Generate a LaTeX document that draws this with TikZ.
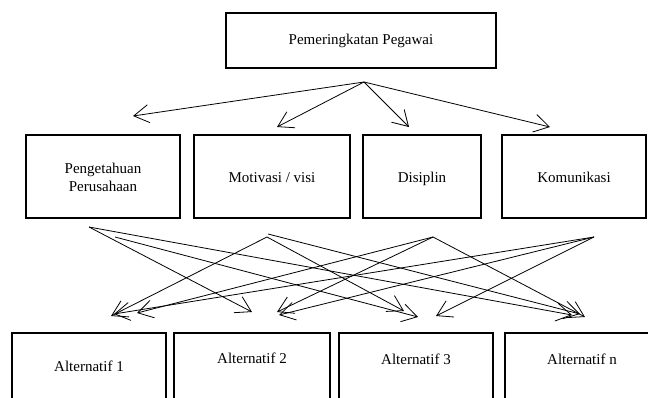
\documentclass[tikz,border=0pt]{standalone}
\usepackage{fontspec}
\setmainfont{Liberation Serif}
\usetikzlibrary{arrows.meta, calc}

\begin{document}
\begin{tikzpicture}[
  x=1pt, y=-1pt,
  box/.style={draw, line width=2pt, inner sep=0pt, align=center,
              font=\fontsize{15pt}{18pt}\selectfont},
  crit/.style={box, text height=47pt, text depth=36pt},
  alt/.style={box, anchor=north, text depth=80pt},
  arr/.style={-{Straight Barb[length=15pt, width=18pt]}, line width=0.8pt},
]

\useasboundingbox (0,0) rectangle (648,397);

% ---- Goal ------------------------------------------------------------------
\node[box, minimum width=270pt, minimum height=55pt] (rank) at (361,40.5)
  {Pemeringkatan Pegawai};

% ---- Criteria --------------------------------------------------------------
\node[box, minimum width=154pt, text height=56pt, text depth=27pt]
  (pengetahuan) at (103,176.5) {Pengetahuan\\Perusahaan};
\node[crit, minimum width=156pt] (motivasi) at (272,176.5) {Motivasi / visi};
\node[crit, minimum width=118pt] (disiplin) at (422,176.5) {Disiplin};
\node[crit, minimum width=144pt] (komunikasi) at (574,176.5) {Komunikasi};

% ---- Alternatives ----------------------------------------------------------
\node[alt, minimum width=154pt, text height=38pt] (alt1) at (89,332) {Alternatif 1};
\node[alt, minimum width=156pt, text height=30pt] (alt2) at (252,332) {Alternatif 2};
\node[alt, minimum width=154pt, text height=31pt] (alt3) at (416,332) {Alternatif 3};
\node[alt, minimum width=155pt, text height=31pt] (altn) at (582,332) {Alternatif n};

% ---- Goal to criteria ------------------------------------------------------
\coordinate (hub) at ($(rank.south)+(3,13)$);
\draw[arr] (hub) -- ($(pengetahuan.north)+(30,-18)$);
\draw[arr] (hub) -- ($(motivasi.north)+(5,-7)$);
\draw[arr] (hub) -- ($(disiplin.north)+(-13,-7)$);
\draw[arr] (hub) -- ($(komunikasi.north)+(-24,-7)$);

% ---- Criteria to alternatives ----------------------------------------------
\coordinate (srcP)  at ($(pengetahuan.south)+(-14,8)$);
\coordinate (srcPb) at ($(pengetahuan.south)+(12,18)$);
\coordinate (srcM)  at ($(motivasi.south)+(-5,18)$);
\coordinate (srcMb) at ($(motivasi.south)+(-4,15)$);
\coordinate (srcD)  at ($(disiplin.south)+(11,18)$);
\coordinate (srcK)  at ($(komunikasi.south)+(20,18)$);

\draw[arr] (srcP)  -- ($(alt2.north)+(0,-20)$);
\draw[arr] (srcPb) -- ($(alt3.north)+(2,-15)$);
\draw[arr] (srcP)  -- ($(altn.north)+(-10,-17)$);

\draw[arr] (srcM)  -- ($(alt1.north)+(22,-16)$);
\draw[arr] (srcM)  -- ($(alt3.north)+(-12,-21)$);
\draw[arr] (srcMb) -- ($(altn.north)+(-2,-18)$);

\draw[arr] (srcD) -- ($(alt1.north)+(48,-19)$);
\draw[arr] (srcD) -- ($(alt2.north)+(25,-20)$);
\draw[arr] (srcD) -- ($(altn.north)+(3,-15)$);

\draw[arr] (srcK) -- ($(alt1.north)+(25,-18)$);
\draw[arr] (srcK) -- ($(alt2.north)+(27,-17)$);
\draw[arr] (srcK) -- ($(alt3.north)+(20,-16)$);

\end{tikzpicture}
\end{document}
